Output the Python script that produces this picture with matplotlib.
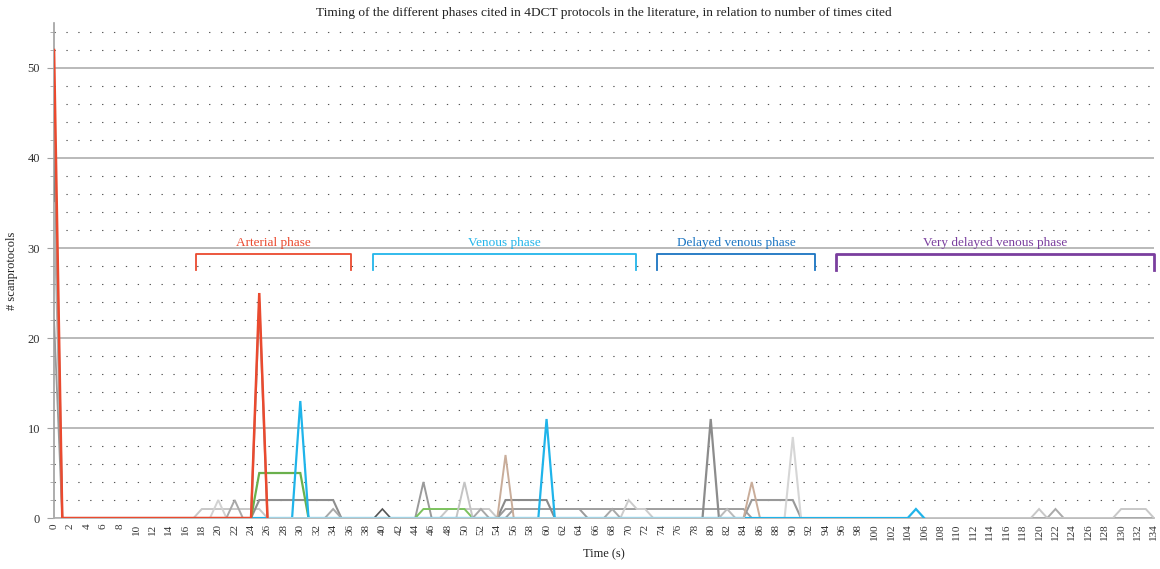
import matplotlib
matplotlib.use('Agg')
import matplotlib.pyplot as plt
from matplotlib.ticker import MultipleLocator

plt.rcParams['font.family'] = ['Liberation Serif', 'DejaVu Serif']

# time axis (s), one category per second
times = list(range(0, 135))

# each series: {time: count}, zero between span start and end
red_pts = {0: 52, 25: 25}
red_span = (0, 26)
gray_a_pts = {0: 47, 25: 24}
gray_a_span = (0, 26)
gray_b_pts = {0: 41}
gray_b_span = (0, 1)
gray_c_pts = {0: 35}
gray_c_span = (0, 1)
gray_d_pts = {0: 22}
gray_d_span = (0, 1)
lgray_18_pts = {18: 1, 19: 1, 20: 1, 21: 1, 22: 1, 23: 1, 24: 1, 25: 1}
lgray_18_span = (17, 26)
lgray_20_pts = {20: 2}
lgray_20_span = (19, 21)
gray_22_pts = {22: 2}
gray_22_span = (21, 23)
dgray_25_pts = {25: 2, 26: 2, 27: 2, 28: 2, 29: 2, 30: 2, 31: 2, 32: 2, 33: 2, 34: 2}
dgray_25_span = (24, 35)
gray_34_pts = {34: 1}
gray_34_span = (33, 35)
green_25_pts = {25: 5, 26: 5, 27: 5, 28: 5, 29: 5, 30: 5}
green_25_span = (24, 31)
dgray_40_pts = {40: 1}
dgray_40_span = (39, 41)
gray_45_pts = {45: 4}
gray_45_span = (44, 46)
green_45_pts = {45: 1, 46: 1, 47: 1, 48: 1, 49: 1, 50: 1}
green_45_span = (44, 51)
lgray_48_pts = {48: 1, 49: 1, 50: 1, 51: 1, 52: 1, 53: 1}
lgray_48_span = (47, 54)
lgray_50_pts = {50: 4}
lgray_50_span = (49, 51)
gray_52_pts = {52: 1}
gray_52_span = (51, 53)
tan_pts = {55: 7, 85: 4}
tan_span = (54, 86)
dgray_55_pts = {55: 2, 56: 2, 57: 2, 58: 2, 59: 2, 60: 2}
dgray_55_span = (54, 61)
gray_55_pts = {t: 1 for t in range(55, 65)}
gray_55_span = (54, 65)
gray_long_pts = {t: 1 for t in range(56, 85)}
gray_long_span = (55, 85)
gray_68_pts = {68: 1}
gray_68_span = (67, 69)
lgray_70_pts = {70: 2, 71: 1, 72: 1}
lgray_70_span = (69, 73)
gray_80_pts = {80: 11}
gray_80_span = (79, 81)
lgray_82_pts = {82: 1}
lgray_82_span = (81, 83)
gray_85_pts = {85: 2, 86: 2, 87: 2, 88: 2, 89: 2, 90: 2}
gray_85_span = (84, 91)
vlgray_90_pts = {90: 9}
vlgray_90_span = (89, 91)
cyan_pts = {30: 13, 60: 11, 105: 1}
cyan_span = (24, 106)
lblue_pts = {}
lblue_span = (26, 84)
gray_tail_pts = {122: 1}
gray_tail_span = (106, 134)
lgray_tail_pts = {120: 1, 130: 1, 131: 1, 132: 1, 133: 1}
lgray_tail_span = (106, 134)

# phase brackets: label, start, end, colour
phase_labels = ['Arterial phase', 'Venous phase', 'Delayed venous phase', 'Very delayed venous phase']
phase_start = [17.3, 38.8, 73.5, 95.3]
phase_end = [36.2, 70.9, 92.7, 134.0]
phase_colors = ['#ea4a2f', '#22b5ea', '#1a74c2', '#7a3e9e']


def series(pts, span):
    xs = [t for t in times if span[0] <= t <= span[1]]
    ys = [pts.get(t, 0) for t in xs]
    return xs, ys


fig, ax = plt.subplots(figsize=(11.6, 5.69), dpi=100)
fig.subplots_adjust(left=0.0466, right=0.9948, bottom=0.0896, top=0.9596)

draw = [
    (gray_b_pts, gray_b_span, '#7a7a7a', 1.3),
    (gray_c_pts, gray_c_span, '#b0b0b0', 1.3),
    (gray_d_pts, gray_d_span, '#9a9a9a', 1.3),
    (gray_a_pts, gray_a_span, '#a5a5a5', 1.5),
    (lgray_18_pts, lgray_18_span, '#c8c8c8', 1.4),
    (lgray_20_pts, lgray_20_span, '#d2d2d2', 1.4),
    (gray_22_pts, gray_22_span, '#a8a8a8', 1.4),
    (dgray_25_pts, dgray_25_span, '#8e8e8e', 1.5),
    (gray_34_pts, gray_34_span, '#a8a8a8', 1.4),
    (dgray_40_pts, dgray_40_span, '#555555', 1.2),
    (gray_45_pts, gray_45_span, '#9a9a9a', 1.4),
    (lgray_48_pts, lgray_48_span, '#c8c8c8', 1.4),
    (green_45_pts, green_45_span, '#7cc25e', 1.4),
    (lgray_50_pts, lgray_50_span, '#c4c4c4', 1.4),
    (gray_52_pts, gray_52_span, '#a8a8a8', 1.4),
    (gray_55_pts, gray_55_span, '#9a9a9a', 1.4),
    (gray_long_pts, gray_long_span, '#9e9e9e', 1.4),
    (dgray_55_pts, dgray_55_span, '#8a8a8a', 1.5),
    (gray_68_pts, gray_68_span, '#a8a8a8', 1.4),
    (lgray_70_pts, lgray_70_span, '#cccccc', 1.4),
    (gray_80_pts, gray_80_span, '#8c8c8c', 1.6),
    (lgray_82_pts, lgray_82_span, '#bbbbbb', 1.4),
    (gray_85_pts, gray_85_span, '#999999', 1.5),
    (vlgray_90_pts, vlgray_90_span, '#d6d6d6', 1.5),
    (tan_pts, tan_span, '#c9ad9a', 1.4),
    (green_25_pts, green_25_span, '#6ab04c', 1.6),
    (gray_tail_pts, gray_tail_span, '#aaaaaa', 1.4),
    (lgray_tail_pts, lgray_tail_span, '#c8c8c8', 1.4),
    (cyan_pts, cyan_span, '#1fb4ea', 1.6),
    (lblue_pts, lblue_span, '#a6d4e4', 1.4),
    (red_pts, red_span, '#ea4a2f', 1.8),
]
for pts, span, color, lw in draw:
    xs, ys = series(pts, span)
    ax.plot(xs, ys, color=color, lw=lw, solid_joinstyle='miter', zorder=3)

ax.set_xlim(0, 134)
ax.set_ylim(0, 55)
ax.set_xticks(times[::2])
ax.set_xticklabels([str(t) for t in times[::2]], rotation=90, fontsize=8, color='#333333')
ax.tick_params(axis='x', length=0, pad=4)
ax.yaxis.set_major_locator(MultipleLocator(10))
ax.yaxis.set_minor_locator(MultipleLocator(2))
ax.tick_params(axis='y', which='major', length=5, color='#a0a0a0', labelsize=9, labelcolor='#333333', pad=5)
ax.tick_params(axis='y', which='minor', length=3, color='#a0a0a0')

ax.grid(axis='y', which='major', color='#b4b4b4', lw=1.3)
ax.grid(axis='y', which='minor', color='#555555', lw=0.8, linestyle=(0, (1.2, 9.5)))
ax.set_axisbelow(True)

for side in ['top', 'right']:
    ax.spines[side].set_visible(False)
ax.spines['left'].set_color('#a0a0a0')
ax.spines['bottom'].set_color('#b0b0b0')
ax.spines['left'].set_linewidth(1.2)
ax.spines['bottom'].set_linewidth(1.2)

# brackets for phases
for label, x0, x1, c in zip(phase_labels, phase_start, phase_end, phase_colors):
    lw = 2.0 if c == '#7a3e9e' else 1.3
    ax.plot([x0, x0, x1, x1], [27.6, 29.3, 29.3, 27.6], color=c, lw=lw, clip_on=False, zorder=4)
    ax.text((x0 + x1) / 2, 29.9, label, color=c, fontsize=9.5, ha='center', va='bottom')

ax.set_title('Timing of the different phases cited in 4DCT protocols in the literature, in relation to number of times cited',
             fontsize=9.6, color='#222222', pad=5)
ax.set_xlabel('Time (s)', fontsize=9, color='#222222', labelpad=6)
ax.set_ylabel('# scanprotocols', fontsize=9, color='#222222', labelpad=7)

plt.savefig('out.png', dpi=100)
